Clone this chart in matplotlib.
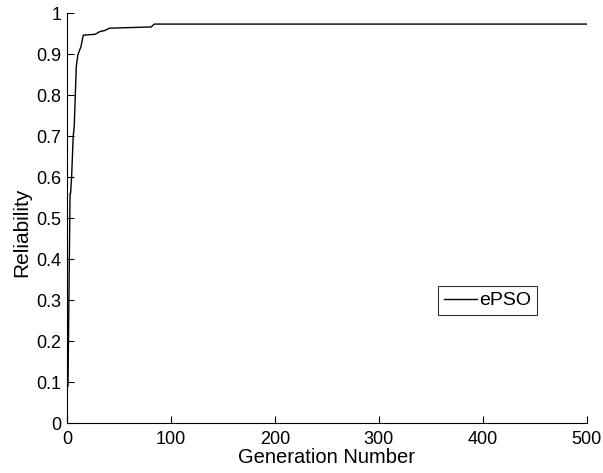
import matplotlib.pyplot as plt
import numpy as np

plt.rcParams['font.family'] = ['Liberation Sans', 'DejaVu Sans']

# generation -> best reliability
gen = [1, 3, 3.5, 4.5, 6, 7, 9, 10.5, 13.5, 15.7, 27, 32, 36, 41, 81, 84, 500]
rel = [0.09, 0.56, 0.56, 0.60, 0.698, 0.723, 0.869, 0.898, 0.918, 0.946,
       0.948, 0.955, 0.957, 0.963, 0.966, 0.973, 0.973]

fig = plt.figure(figsize=(6.03, 4.73), dpi=100)
ax = fig.add_axes([0.111, 0.1057, 0.862, 0.8668])
ax.plot(gen, rel, color='black', linewidth=1.0, label='ePSO')

ax.set_xlim(0, 500)
ax.set_ylim(0, 1)
ax.set_xticks(np.arange(0, 501, 100))
ax.set_yticks(np.arange(0, 1.01, 0.1))
ax.set_yticklabels(['0', '0.1', '0.2', '0.3', '0.4', '0.5', '0.6', '0.7', '0.8', '0.9', '1'])
ax.tick_params(direction='in', labelsize=13, length=5, width=0.8)
ax.tick_params(axis='x', pad=6)
ax.tick_params(axis='y', pad=4)
ax.spines['top'].set_visible(False)
ax.spines['right'].set_visible(False)
ax.set_xlabel('Generation Number', fontsize=14.5, labelpad=0)
ax.set_ylabel('Reliability', fontsize=15)
ax.yaxis.set_label_coords(-0.068, 0.466)

leg = ax.legend(loc='lower left', bbox_to_anchor=(0.714, 0.263), fontsize=14,
                frameon=True, fancybox=False, handlelength=1.7, borderpad=0.3,
                handletextpad=0.1, borderaxespad=0)
leg.get_frame().set_edgecolor('black')
leg.get_frame().set_linewidth(0.8)

fig.savefig('out.png', dpi=100)
